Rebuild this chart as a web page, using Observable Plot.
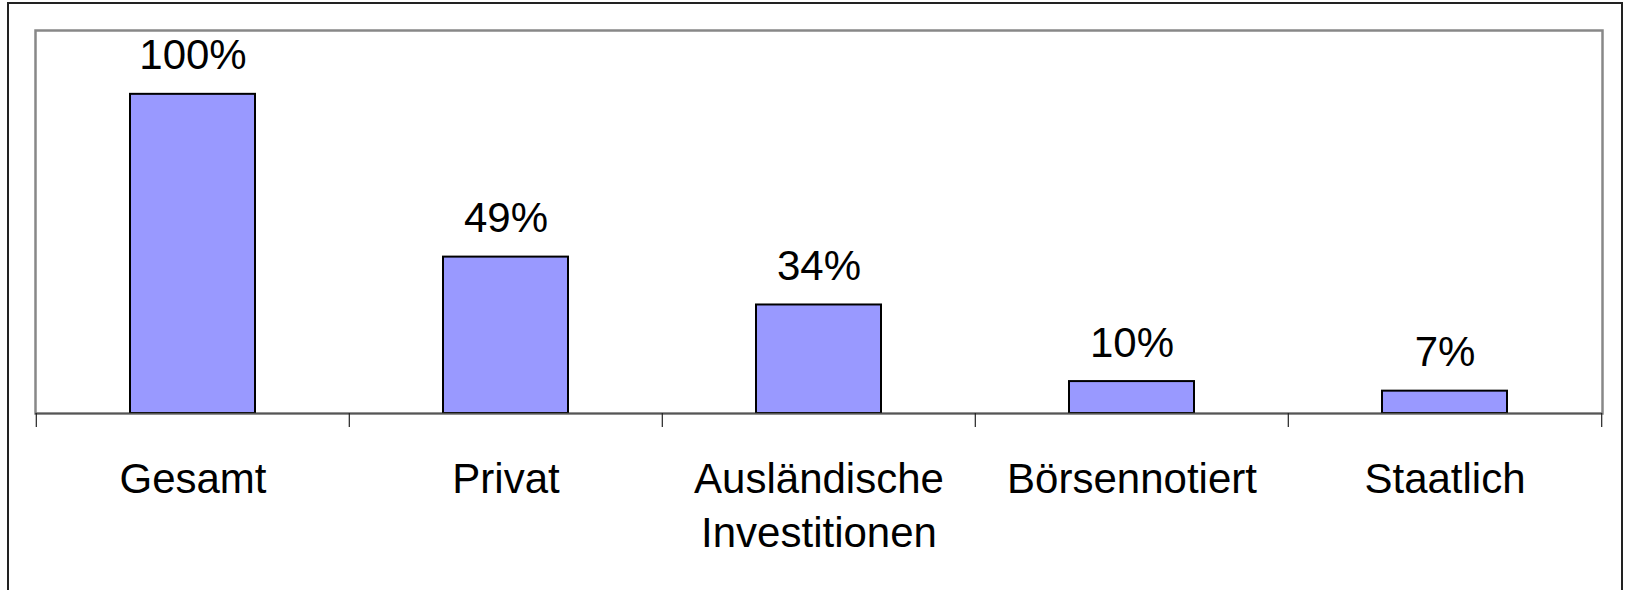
<!DOCTYPE html>
<html>
<head>
<meta charset="utf-8">
<script src="https://cdn.jsdelivr.net/npm/d3@7"></script>
<script src="https://cdn.jsdelivr.net/npm/@observablehq/plot@0.6"></script>
<style>
  html, body { margin: 0; padding: 0; background: #fff; width: 1630px; height: 590px; overflow: hidden; }
  #wrap { position: relative; width: 1630px; height: 590px; }
  #outer { position: absolute; left: 7px; top: 2px; width: 1616px; height: 620px; border: 2px solid #222; box-sizing: border-box; }
  #chart { position: absolute; left: 0; top: 0; }
</style>
</head>
<body>
<div id="wrap">
  <div id="outer"></div>
  <div id="chart"></div>
</div>
<script>
const categories = ["Gesamt", "Privat", "Ausländische Investitionen", "Börsennotiert", "Staatlich"];
const tickLabels = ["Gesamt", "Privat", "Ausländische\nInvestitionen", "Börsennotiert", "Staatlich"];
const values = [100, 49, 34, 10, 7];
const valueLabels = ["100%", "49%", "34%", "10%", "7%"];

const data = categories.map((c, i) => ({category: c, value: values[i], label: valueLabels[i]}));
const labelOf = new Map(categories.map((c, i) => [c, tickLabels[i]]));

const W = 1630, H = 590;
const mL = 35, mR = 28, mT = 30, mB = 177;
const step = (W - mL - mR) / categories.length;
const font = "'Liberation Sans', Arial, sans-serif";

const chart = Plot.plot({
  width: W,
  height: H,
  marginLeft: mL,
  marginRight: mR,
  marginTop: mT,
  marginBottom: mB,
  style: {fontFamily: font, background: "transparent", overflow: "visible"},
  x: {domain: categories, paddingInner: 0.6, paddingOuter: 0.3, align: 0.5, label: null},
  y: {domain: [0, 120], axis: null},
  marks: [
    Plot.frame({stroke: "#888", strokeWidth: 2.5}),
    Plot.barY(data, {x: "category", y: "value", fill: "#9999FF", stroke: "#000", strokeWidth: 2}),
    Plot.ruleY([0], {stroke: "#555", strokeWidth: 1.5}),
    Plot.axisX({tickSize: 14, dx: -step / 2, text: null, label: null, stroke: "#222", strokeWidth: 1.2}),
    Plot.axisX([categories[categories.length - 1]], {tickSize: 14, dx: step / 2, text: null, label: null, stroke: "#222", strokeWidth: 1.2}),
    Plot.axisX({tickSize: 0, tickPadding: 41, fontSize: 42, lineHeight: 1.29, fill: "#000", label: null,
      tickFormat: d => labelOf.get(d), fontFamily: font}),
    Plot.text(data, {x: "category", y: "value", text: "label", dy: -25, lineAnchor: "bottom",
      fontSize: 42, fill: "#000", fontFamily: font})
  ]
});
document.getElementById("chart").appendChild(chart);
</script>
</body>
</html>
